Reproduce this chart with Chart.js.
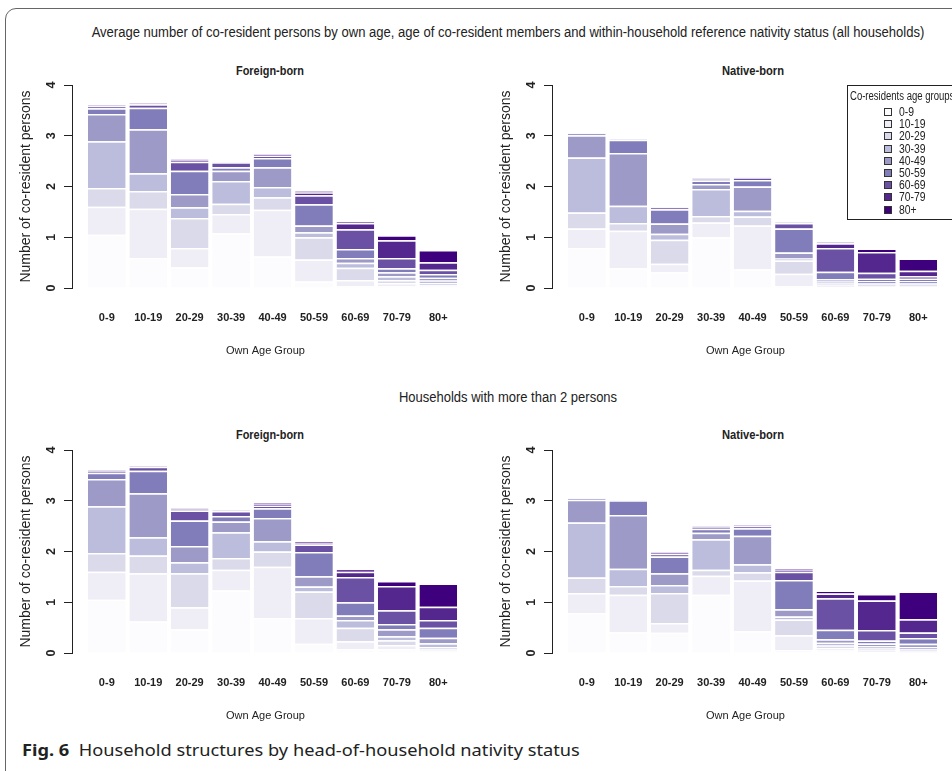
<!DOCTYPE html>
<html>
<head>
<meta charset="utf-8">
<script src="https://cdn.jsdelivr.net/npm/chart.js@4/dist/chart.umd.min.js"></script>
<style>
  html, body { margin: 0; padding: 0; background: #fff; }
  body { width: 952px; height: 771px; overflow: hidden; position: relative; }
  .frame { position: absolute; left: 5px; top: 8px; width: 980px; height: 800px; border: 1px solid #666; border-radius: 11px; }
  .txt { position: absolute; white-space: nowrap; transform: translate(-50%, -50%); color: #222;
         font-family: 'Liberation Sans', Arial, sans-serif; }
  .main { font-size: 15.5px; }
  .panel { font-size: 13.5px; font-weight: bold; }
  canvas { position: absolute; }
  .legend { position: absolute; left: 847px; top: 85px; width: 130px; height: 133px; border: 1px solid #222;
            font-family: 'Liberation Sans', Arial, sans-serif; color: #222; }
  .legend .ttl { position: absolute; left: 2px; top: 3px; font-size: 12px; white-space: nowrap; transform-origin: 0 50%; }
  .legend .item { position: absolute; left: 36px; font-size: 13px; line-height: 12px; white-space: nowrap; }
  .legend .sw { position: absolute; left: 0; top: 2px; width: 6px; height: 6px; border: 1px solid #333; }
  .legend .lb { position: absolute; left: 15px; top: 0; transform: scaleX(0.8); transform-origin: 0 50%; }
  .caption { position: absolute; left: 22px; top: 739px; font-family: 'Noto Sans', 'Open Sans', sans-serif;
             font-size: 16px; color: #222; white-space: nowrap; transform-origin: 0 50%; }
</style>
</head>
<body>
<div class="frame"></div>

<div class="txt main" data-w="833" style="left:508px; top:32px;">Average number of co-resident persons by own age, age of co-resident members and within-household reference nativity status (all households)</div>
<div class="txt panel" data-w="68" style="left:270px; top:70px;">Foreign-born</div>
<div class="txt panel" data-w="62" style="left:753px; top:70px;">Native-born</div>
<div class="txt main" data-w="218" style="left:508px; top:397px;">Households with more than 2 persons</div>
<div class="txt panel" data-w="68" style="left:270px; top:434px;">Foreign-born</div>
<div class="txt panel" data-w="62" style="left:753px; top:434px;">Native-born</div>

<canvas id="c1" width="470" height="290" style="left:0px; top:80px;"></canvas>
<canvas id="c2" width="472" height="290" style="left:480px; top:80px;"></canvas>
<canvas id="c3" width="470" height="290" style="left:0px; top:445px;"></canvas>
<canvas id="c4" width="472" height="290" style="left:480px; top:445px;"></canvas>

<div class="legend" id="legend"><div class="ttl" id="legendTitle">Co-residents age groups</div></div>

<div class="caption" id="caption"><b>Fig. 6</b>&nbsp; Household structures by head-of-household nativity status</div>

<script>
// own age groups (bars) and co-resident age groups (stack segments)
const ownAgeGroups = ['0-9', '10-19', '20-29', '30-39', '40-49', '50-59', '60-69', '70-79', '80+'];
const coResidentGroups = ['0-9', '10-19', '20-29', '30-39', '40-49', '50-59', '60-69', '70-79', '80+'];
const purples = ['#fcfbfd', '#efedf5', '#dadaeb', '#bcbddc', '#9e9ac8', '#807dba', '#6a51a3', '#54278f', '#3f007d'];

// one row per own age group, values per co-resident group (0-9 ... 80+)
const foreignAll = [
    [1.05, 0.55, 0.37, 0.92, 0.54, 0.11, 0.04, 0.02, 0.01],
    [0.59, 0.97, 0.35, 0.35, 0.87, 0.42, 0.07, 0.02, 0.01],
    [0.41, 0.38, 0.59, 0.21, 0.26, 0.46, 0.18, 0.03, 0.01],
    [1.08, 0.38, 0.20, 0.45, 0.20, 0.07, 0.10, 0.01, 0.00],
    [0.62, 0.92, 0.25, 0.20, 0.39, 0.18, 0.04, 0.02, 0.01],
    [0.13, 0.43, 0.44, 0.10, 0.13, 0.42, 0.18, 0.05, 0.03],
    [0.04, 0.12, 0.24, 0.10, 0.09, 0.18, 0.39, 0.12, 0.02],
    [0.04, 0.06, 0.06, 0.07, 0.08, 0.08, 0.20, 0.35, 0.10],
    [0.03, 0.03, 0.04, 0.05, 0.05, 0.075, 0.085, 0.145, 0.245]
];

const nativeAll = [
    [0.79, 0.38, 0.32, 1.08, 0.44, 0.04, 0.01, 0.00, 0.00],
    [0.39, 0.74, 0.15, 0.34, 1.04, 0.26, 0.01, 0.00, 0.00],
    [0.31, 0.17, 0.47, 0.12, 0.20, 0.28, 0.04, 0.01, 0.00],
    [1.00, 0.29, 0.13, 0.53, 0.10, 0.07, 0.03, 0.01, 0.00],
    [0.37, 0.86, 0.18, 0.11, 0.48, 0.13, 0.05, 0.01, 0.00],
    [0.04, 0.24, 0.26, 0.04, 0.12, 0.47, 0.11, 0.01, 0.00],
    [0.02, 0.03, 0.04, 0.04, 0.04, 0.15, 0.47, 0.09, 0.02],
    [0.02, 0.02, 0.03, 0.03, 0.04, 0.04, 0.12, 0.41, 0.07],
    [0.02, 0.02, 0.03, 0.03, 0.04, 0.04, 0.05, 0.11, 0.24]
];

const foreignBig = [
    [1.05, 0.55, 0.37, 0.92, 0.54, 0.12, 0.04, 0.01, 0.01],
    [0.62, 0.95, 0.35, 0.36, 0.87, 0.44, 0.08, 0.01, 0.01],
    [0.47, 0.43, 0.67, 0.22, 0.32, 0.50, 0.20, 0.03, 0.01],
    [1.23, 0.41, 0.23, 0.51, 0.21, 0.11, 0.10, 0.01, 0.00],
    [0.69, 1.01, 0.30, 0.20, 0.46, 0.19, 0.05, 0.04, 0.02],
    [0.18, 0.51, 0.52, 0.10, 0.20, 0.48, 0.15, 0.03, 0.03],
    [0.08, 0.15, 0.27, 0.15, 0.09, 0.26, 0.50, 0.10, 0.06],
    [0.08, 0.08, 0.09, 0.08, 0.14, 0.10, 0.27, 0.48, 0.10],
    [0.03, 0.04, 0.05, 0.07, 0.11, 0.20, 0.15, 0.26, 0.46]
];

const nativeBig = [
    [0.79, 0.39, 0.31, 1.08, 0.45, 0.03, 0.01, 0.00, 0.00],
    [0.41, 0.74, 0.17, 0.34, 1.06, 0.29, 0.01, 0.00, 0.00],
    [0.40, 0.19, 0.59, 0.16, 0.23, 0.33, 0.05, 0.02, 0.01],
    [1.15, 0.37, 0.12, 0.60, 0.13, 0.08, 0.04, 0.01, 0.00],
    [0.43, 1.00, 0.16, 0.16, 0.56, 0.15, 0.04, 0.01, 0.01],
    [0.06, 0.29, 0.31, 0.06, 0.14, 0.58, 0.16, 0.04, 0.02],
    [0.05, 0.05, 0.05, 0.05, 0.07, 0.19, 0.62, 0.09, 0.06],
    [0.02, 0.03, 0.04, 0.045, 0.05, 0.06, 0.21, 0.58, 0.13],
    [0.01, 0.035, 0.035, 0.04, 0.06, 0.115, 0.11, 0.26, 0.545]
];

const yTicks = [0, 1, 2, 3, 4];

const sans = "'Liberation Sans', Arial, sans-serif";

function buildDatasets(rows) {
    return coResidentGroups.map((group, k) => ({
        label: group,
        data: rows.map((row, i) => ({ x: i, y: row[k] })),
        backgroundColor: purples[k],
        borderColor: '#ffffff',
        borderWidth: { top: 1.5, left: 0, right: 0, bottom: 0 },
        borderSkipped: false,
        categoryPercentage: 1,
        barPercentage: 0.91
    }));
}

function makePanel(id, rows, rightPad) {
    const ctx = document.getElementById(id).getContext('2d');
    return new Chart(ctx, {
        type: 'bar',
        data: { datasets: buildDatasets(rows) },
        options: {
            responsive: false,
            animation: false,
            events: [],
            layout: { padding: { top: 5, left: 18, right: rightPad, bottom: 0 } },
            plugins: { legend: { display: false }, tooltip: { enabled: false }, title: { display: false } },
            scales: {
                x: {
                    type: 'linear',
                    offset: false,
                    stacked: true,
                    min: -0.84,
                    max: 8.5,
                    grid: { display: false, drawTicks: false, offset: false },
                    border: { display: false },
                    afterBuildTicks(axis) { axis.ticks = ownAgeGroups.map((_, i) => ({ value: i })); },
                    afterFit(scale) { scale.height = 82; scale.paddingLeft = 0; scale.paddingRight = 0; },
                    ticks: {
                        autoSkip: false,
                        maxRotation: 0,
                        padding: 23,
                        color: '#222',
                        font: { family: sans, size: 11, weight: 'bold' },
                        callback: (value) => ownAgeGroups[value]
                    },
                    title: {
                        display: true,
                        text: 'Own Age Group',
                        color: '#222',
                        font: { family: sans, size: 11 },
                        padding: { top: 0, bottom: 12 }
                    }
                },
                y: {
                    stacked: true,
                    min: 0,
                    max: 4,
                    afterBuildTicks(axis) { axis.ticks = yTicks.map((v) => ({ value: v })); },
                    afterFit(scale) { scale.width = 54; scale.paddingTop = 0; scale.paddingBottom = 0; },
                    grid: { drawOnChartArea: false, drawTicks: true, tickLength: 8, color: '#222', lineWidth: 1 },
                    border: { display: true, color: '#222', width: 1 },
                    ticks: {
                        color: '#222',
                        crossAlign: 'center',
                        minRotation: 90,
                        maxRotation: 90,
                        padding: 9,
                        font: { family: sans, size: 12.5, weight: 'bold' }
                    },
                    title: {
                        display: true,
                        text: 'Number of co-resident persons',
                        color: '#222',
                        font: { family: sans, size: 14 },
                        padding: { top: 0, bottom: 0 }
                    }
                }
            }
        }
    });
}

makePanel('c1', foreignAll, 11);
makePanel('c2', nativeAll, 13);
makePanel('c3', foreignBig, 11);
makePanel('c4', nativeBig, 13);

// legend built from the co-resident group list
const legend = document.getElementById('legend');
coResidentGroups.forEach((group, k) => {
    const item = document.createElement('div');
    item.className = 'item';
    item.style.top = (20 + 12.2 * k) + 'px';
    item.innerHTML = `<span class="sw" style="background:${purples[k]}"></span><span class="lb">${group}</span>`;
    legend.appendChild(item);
});

// squeeze the html texts to the narrow widths of the original figure
document.querySelectorAll('[data-w]').forEach((el) => {
    const k = Number(el.dataset.w) / el.offsetWidth;
    el.style.transform = `translate(-50%, -50%) scaleX(${k})`;
});
const legendTitle = document.getElementById('legendTitle');
legendTitle.style.transform = `scaleX(${104 / legendTitle.offsetWidth})`;
const caption = document.getElementById('caption');
caption.style.transform = `scaleX(${558 / caption.offsetWidth})`;
</script>
</body>
</html>
